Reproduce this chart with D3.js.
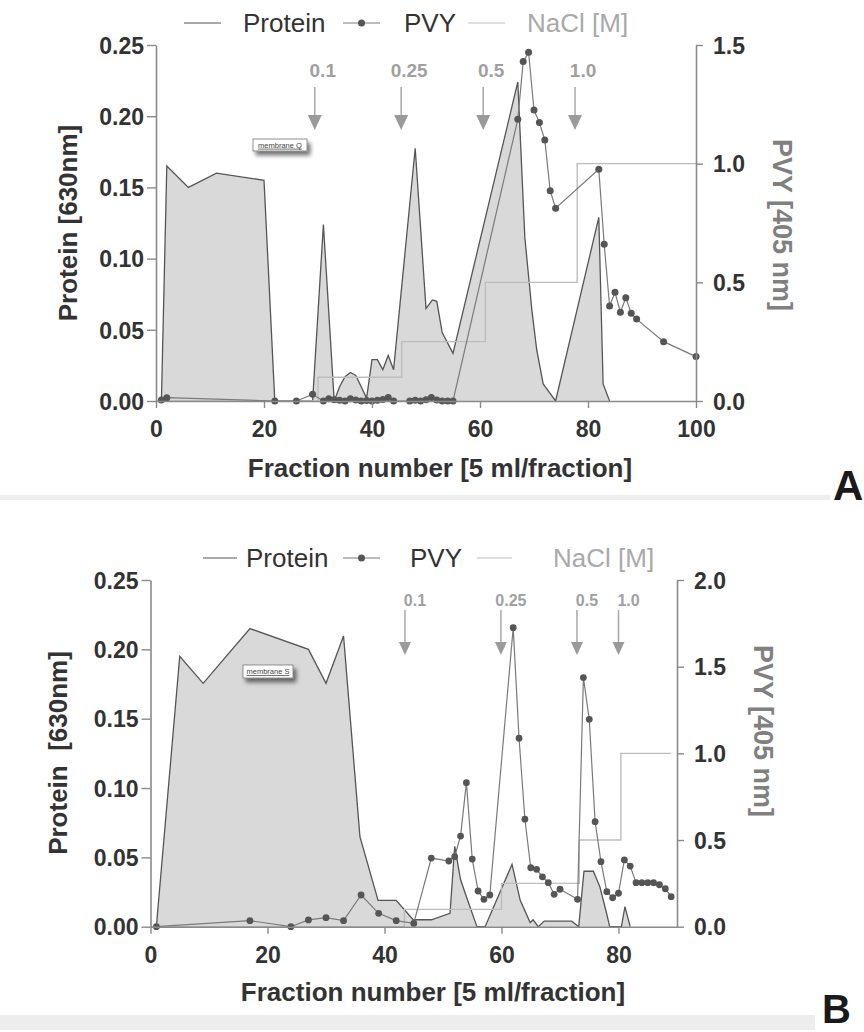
<!DOCTYPE html>
<html><head><meta charset="utf-8">
<script src="https://cdn.jsdelivr.net/npm/d3@7"></script>
<style>
body{margin:0;background:#fff}
svg{display:block}
text{font-family:"Liberation Sans",Arial,Helvetica,sans-serif}
</style>
</head><body>
<svg id="chart" width="864" height="1032"></svg>
<script>
// ---------- Panel A data ----------
const proteinFracA = [1, 2, 6, 11.2, 20, 22, 29, 31, 33, 34, 35, 36, 37, 38, 39, 40, 41, 42, 43, 44, 48, 50, 51.2, 52, 53, 55, 67, 68.3, 69.6, 70.5, 71.7, 74, 82, 82.8, 84];
const proteinA     = [0, 0.165, 0.150, 0.160, 0.155, 0, 0, 0.124, 0, 0.010, 0.017, 0.020, 0.018, 0.010, 0.002, 0.029, 0.029, 0.022, 0.032, 0.022, 0.1775, 0.065, 0.071, 0.070, 0.048, 0.0335, 0.224, 0.115, 0.064, 0.036, 0.012, 0, 0.129, 0.012, 0];
const pvyFracA = [1, 2, 22, 26, 29, 31, 32, 33, 34, 35, 36, 37, 38, 39, 40, 41, 42, 43, 44, 47, 48, 49, 50, 51, 52, 53, 54, 55, 67, 68, 69, 70, 71, 72, 73, 74, 82, 83, 84, 85, 86, 87, 88, 89, 94, 100];
const pvyA     = [0.004, 0.014, 0, 0, 0.028, 0, 0.01, 0.005, 0.003, 0, 0.01, 0.004, 0, 0.002, 0, 0.003, 0.006, 0.015, 0, 0, 0.003, 0, 0.005, 0.015, 0.004, 0, 0, 0, 1.187, 1.43, 1.469, 1.226, 1.173, 1.10, 0.886, 0.812, 0.976, 0.66, 0.40, 0.458, 0.374, 0.435, 0.37, 0.345, 0.25, 0.187];
const naclFracA = [0, 30, 45.5, 61, 78, 100];
const naclA     = [0, 0.1, 0.25, 0.5, 1.0, 1.0];
const arrowFracA = [29.4, 45.4, 60.6, 77.6];
const xTicksA = [0, 20, 40, 60, 80, 100];
const yRightTicksA = [0, 0.5, 1.0, 1.5];

// ---------- Panel B data ----------
const proteinFracB = [1, 5, 9, 17, 27, 30, 33, 35.8, 38.9, 42, 44.9, 48, 51.2, 52, 53, 54, 55.8, 57.2, 61.8, 63.2, 64.9, 65.4, 66.3, 67.3, 72, 73.2, 74.1, 75.7, 76.8, 78, 78.5, 80.5, 81.1, 82];
const proteinB     = [0, 0.195, 0.1755, 0.215, 0.200, 0.1755, 0.2096, 0.065, 0.019, 0.019, 0.005, 0.005, 0.0096, 0.058, 0.034, 0.0216, 0, 0, 0.045, 0.019, 0.003, 0.005, 0, 0.004, 0.004, 0, 0.040, 0.040, 0.029, 0.009, 0, 0, 0.0144, 0];
const pvyFracB = [1, 17, 24, 27, 30, 33, 36, 39, 42, 45, 48, 51, 52, 53, 54, 55, 56, 57, 58, 62, 63, 64, 65, 66, 67, 68, 69, 70, 73, 74, 75, 76, 77, 78, 79, 80, 81, 82, 83, 84, 85, 86, 87, 88, 89];
const pvyB     = [0, 0.035, 0, 0.039, 0.052, 0.035, 0.183, 0.077, 0.035, 0.019, 0.396, 0.379, 0.404, 0.523, 0.831, 0.39, 0.206, 0.158, 0.183, 1.725, 1.087, 0.62, 0.34, 0.331, 0.288, 0.254, 0.187, 0.216, 0.158, 1.437, 1.196, 0.606, 0.375, 0.202, 0.167, 0.193, 0.385, 0.35, 0.254, 0.254, 0.254, 0.254, 0.242, 0.219, 0.173];
const naclFracB = [0, 43.4, 60, 73.3, 80.4, 89];
const naclB     = [0, 0.1, 0.25, 0.5, 1.0, 1.0];
const arrowFracB = [43.5, 59.9, 72.9, 80.0];
const xTicksB = [0, 20, 40, 60, 80];
const yRightTicksB = [0, 0.5, 1.0, 1.5, 2.0];

// ---------- shared ----------
const yLeftTicks = [0, 0.05, 0.10, 0.15, 0.20, 0.25];
const arrowLabels = ["0.1", "0.25", "0.5", "1.0"];
const legendLabels = ["Protein", "PVY", "NaCl [M]"];
const leftTitle = ["Protein [630nm]", "Protein  [630nm]"];
const rightTitle = "PVY [405 nm]";
const xTitle = "Fraction number [5 ml/fraction]";
const memLabels = ["membrane Q", "membrane S"];
const panelLetters = ["A", "B"];

const svg = d3.select("#chart");
const defs = svg.append("defs");
const f = defs.append("filter").attr("id","shadow").attr("x","-30%").attr("y","-50%").attr("width","180%").attr("height","250%");
f.append("feDropShadow").attr("dx",3).attr("dy",4).attr("stdDeviation",2.2).attr("flood-color","#000").attr("flood-opacity",0.55);

const C_PROT_FILL = "#d9d9d9", C_PROT = "#555", C_PVY_LINE = "#7a7a7a", C_DOT = "#555", C_NACL = "#bdbdbd";
const C_AXIS = "#8a8a8a", C_TXT = "#333";

const panels = [
  {left:156, right:696, top:45, bottom:401, xmax:100, rmax:1.5,
   pf:proteinFracA, p:proteinA, vf:pvyFracA, v:pvyA, nf:naclFracA, n:naclA,
   af:arrowFracA, xt:xTicksA, rt:yRightTicksA,
   arrowTop:87, arrowHead:115, arrowTip:130, arrowHalf:7, arrowLblY:70, arrowLblDx:8, arrowFont:19,
   leg:{y:23, pl:[184,221], pt:243, vl:[343,380], vt:404, nl:[468,505], nt:527},
   ltx:68, lty:223, rtx:783, rty:225, xtx:440, xty:468,
   mem:{x:253, y:139, w:54, h:12},
   letter:{x:833, y:500, s:42}, sep:{y:495, h:5, w:830}, r:3.5},
  {left:150.5, right:677, top:580, bottom:926.7, xmax:90, rmax:2.0,
   pf:proteinFracB, p:proteinB, vf:pvyFracB, v:pvyB, nf:naclFracB, n:naclB,
   af:arrowFracB, xt:xTicksB, rt:yRightTicksB,
   arrowTop:610, arrowHead:642, arrowTip:655, arrowHalf:6, arrowLblY:600, arrowLblDx:10, arrowFont:16,
   leg:{y:558, pl:[203,237], pt:246, vl:[343,380], vt:410, nl:[477,512], nt:553},
   ltx:58, lty:753, rtx:764, rty:731, xtx:433, xty:992,
   mem:{x:243, y:665, w:50, h:13},
   letter:{x:822, y:1023, s:40}, sep:{y:1015, h:15, w:815}, r:3.4}
];

panels.forEach((P, i) => {
  const g = svg.append("g");
  const x = d3.scaleLinear().domain([0, P.xmax]).range([P.left, P.right]);
  const yL = d3.scaleLinear().domain([0, 0.25]).range([P.bottom, P.top]);
  const yR = d3.scaleLinear().domain([0, P.rmax]).range([P.bottom, P.top]);

  // separator band
  g.append("rect").attr("x",0).attr("y",P.sep.y).attr("width",P.sep.w).attr("height",P.sep.h).attr("fill","#ededed");

  // protein area
  const prot = P.pf.map((d,k)=>({f:d, v:P.p[k]}));
  g.append("path").datum(prot)
    .attr("d", d3.area().x(d=>x(d.f)).y0(yL(0)).y1(d=>yL(d.v)))
    .attr("fill", C_PROT_FILL);
  g.append("path").datum(prot)
    .attr("d", d3.line().x(d=>x(d.f)).y(d=>yL(d.v)))
    .attr("fill","none").attr("stroke",C_PROT).attr("stroke-width",1.3);

  // NaCl step line
  const nacl = P.nf.map((d,k)=>({f:d, v:P.n[k]}));
  g.append("path").datum(nacl)
    .attr("d", d3.line().curve(d3.curveStepAfter).x(d=>x(d.f)).y(d=>yR(d.v)))
    .attr("fill","none").attr("stroke",C_NACL).attr("stroke-width",1.4);

  // PVY line + dots
  const pvy = P.vf.map((d,k)=>({f:d, v:P.v[k]}));
  g.append("path").datum(pvy)
    .attr("d", d3.line().x(d=>x(d.f)).y(d=>yR(d.v)))
    .attr("fill","none").attr("stroke",C_PVY_LINE).attr("stroke-width",1.2);
  g.selectAll("circle.pvy").data(pvy).enter().append("circle")
    .attr("cx",d=>x(d.f)).attr("cy",d=>yR(d.v)).attr("r",P.r).attr("fill",C_DOT);

  // axes
  const ax = g.append("g").attr("transform",`translate(0,${P.bottom})`)
    .call(d3.axisBottom(x).tickValues(P.xt).tickSize(7).tickSizeOuter(0).tickPadding(13).tickFormat(d3.format("d")));
  const al = g.append("g").attr("transform",`translate(${P.left},0)`)
    .call(d3.axisLeft(yL).tickValues(yLeftTicks).tickSize(9).tickSizeOuter(0).tickPadding(3).tickFormat(d3.format(".2f")));
  const ar = g.append("g").attr("transform",`translate(${P.right},0)`)
    .call(d3.axisRight(yR).tickValues(P.rt).tickSize(7).tickSizeOuter(0).tickPadding(10).tickFormat(d3.format(".1f")));
  [ax,al,ar].forEach(a=>{
    a.select(".domain").attr("stroke",C_AXIS).attr("stroke-width",1.6);
    a.selectAll(".tick line").attr("stroke",C_AXIS).attr("stroke-width",1.4);
    a.selectAll(".tick text").attr("fill",C_TXT).attr("font-size",23).attr("font-weight","bold")
      .attr("font-family",'"Liberation Sans",Arial,sans-serif');
  });
  al.selectAll(".tick text").attr("dy","0.36em");
  ar.selectAll(".tick text").attr("dy","0.36em");

  // arrows
  P.af.forEach((a,k)=>{
    const ax0 = x(a);
    g.append("line").attr("x1",ax0).attr("x2",ax0).attr("y1",P.arrowTop).attr("y2",P.arrowHead)
      .attr("stroke","#a8a8a8").attr("stroke-width",1.5);
    g.append("path").attr("d",`M${ax0-P.arrowHalf},${P.arrowHead}L${ax0+P.arrowHalf},${P.arrowHead}L${ax0},${P.arrowTip}Z`)
      .attr("fill","#9a9a9a");
    g.append("text").attr("x",ax0+P.arrowLblDx).attr("y",P.arrowLblY).attr("dy","0.36em")
      .attr("text-anchor","middle").attr("font-size",P.arrowFont).attr("font-weight","bold").attr("fill","#a0a0a0")
      .text(arrowLabels[k]);
  });

  // legend
  const L = P.leg;
  g.append("line").attr("x1",L.pl[0]).attr("x2",L.pl[1]).attr("y1",L.y).attr("y2",L.y).attr("stroke",C_PROT).attr("stroke-width",1.2);
  g.append("text").attr("x",L.pt).attr("y",L.y).attr("dy","0.36em").attr("font-size",26).attr("fill",C_TXT).text(legendLabels[0]);
  g.append("line").attr("x1",L.vl[0]).attr("x2",L.vl[1]).attr("y1",L.y).attr("y2",L.y).attr("stroke",C_PVY_LINE).attr("stroke-width",1.2);
  g.append("circle").attr("cx",(L.vl[0]+L.vl[1])/2).attr("cy",L.y).attr("r",3.5).attr("fill",C_DOT);
  g.append("text").attr("x",L.vt).attr("y",L.y).attr("dy","0.36em").attr("font-size",26).attr("fill",C_TXT).text(legendLabels[1]);
  g.append("line").attr("x1",L.nl[0]).attr("x2",L.nl[1]).attr("y1",L.y).attr("y2",L.y).attr("stroke",C_NACL).attr("stroke-width",1.2);
  g.append("text").attr("x",L.nt).attr("y",L.y).attr("dy","0.36em").attr("font-size",26).attr("fill","#a9a9a9").text(legendLabels[2]);

  // axis titles
  g.append("text").attr("transform",`translate(${P.ltx},${P.lty}) rotate(-90)`).attr("text-anchor","middle").attr("dy","0.36em")
    .attr("font-size",26).attr("font-weight","bold").attr("fill",C_TXT).attr("xml:space","preserve").style("white-space","pre").text(leftTitle[i]);
  g.append("text").attr("transform",`translate(${P.rtx},${P.rty}) rotate(90)`).attr("text-anchor","middle").attr("dy","0.36em")
    .attr("font-size",27).attr("font-weight","bold").attr("fill","#808080").text(rightTitle);
  g.append("text").attr("x",P.xtx).attr("y",P.xty).attr("dy","0.36em").attr("text-anchor","middle")
    .attr("font-size",26).attr("font-weight","bold").attr("fill",C_TXT).text(xTitle);

  // membrane label
  const M = P.mem;
  g.append("rect").attr("x",M.x).attr("y",M.y).attr("width",M.w).attr("height",M.h)
    .attr("fill","#fff").attr("stroke","#777").attr("stroke-width",0.8).attr("filter","url(#shadow)");
  g.append("text").attr("x",M.x+M.w/2).attr("y",M.y+M.h/2).attr("dy","0.36em").attr("text-anchor","middle")
    .attr("font-size",7.5).attr("fill","#444").attr("text-decoration","underline").text(memLabels[i]);

  // panel letter
  g.append("text").attr("x",P.letter.x).attr("y",P.letter.y).attr("font-size",P.letter.s).attr("font-weight","bold")
    .attr("fill","#1a1a1a").text(panelLetters[i]);
});
</script>
</body></html>
